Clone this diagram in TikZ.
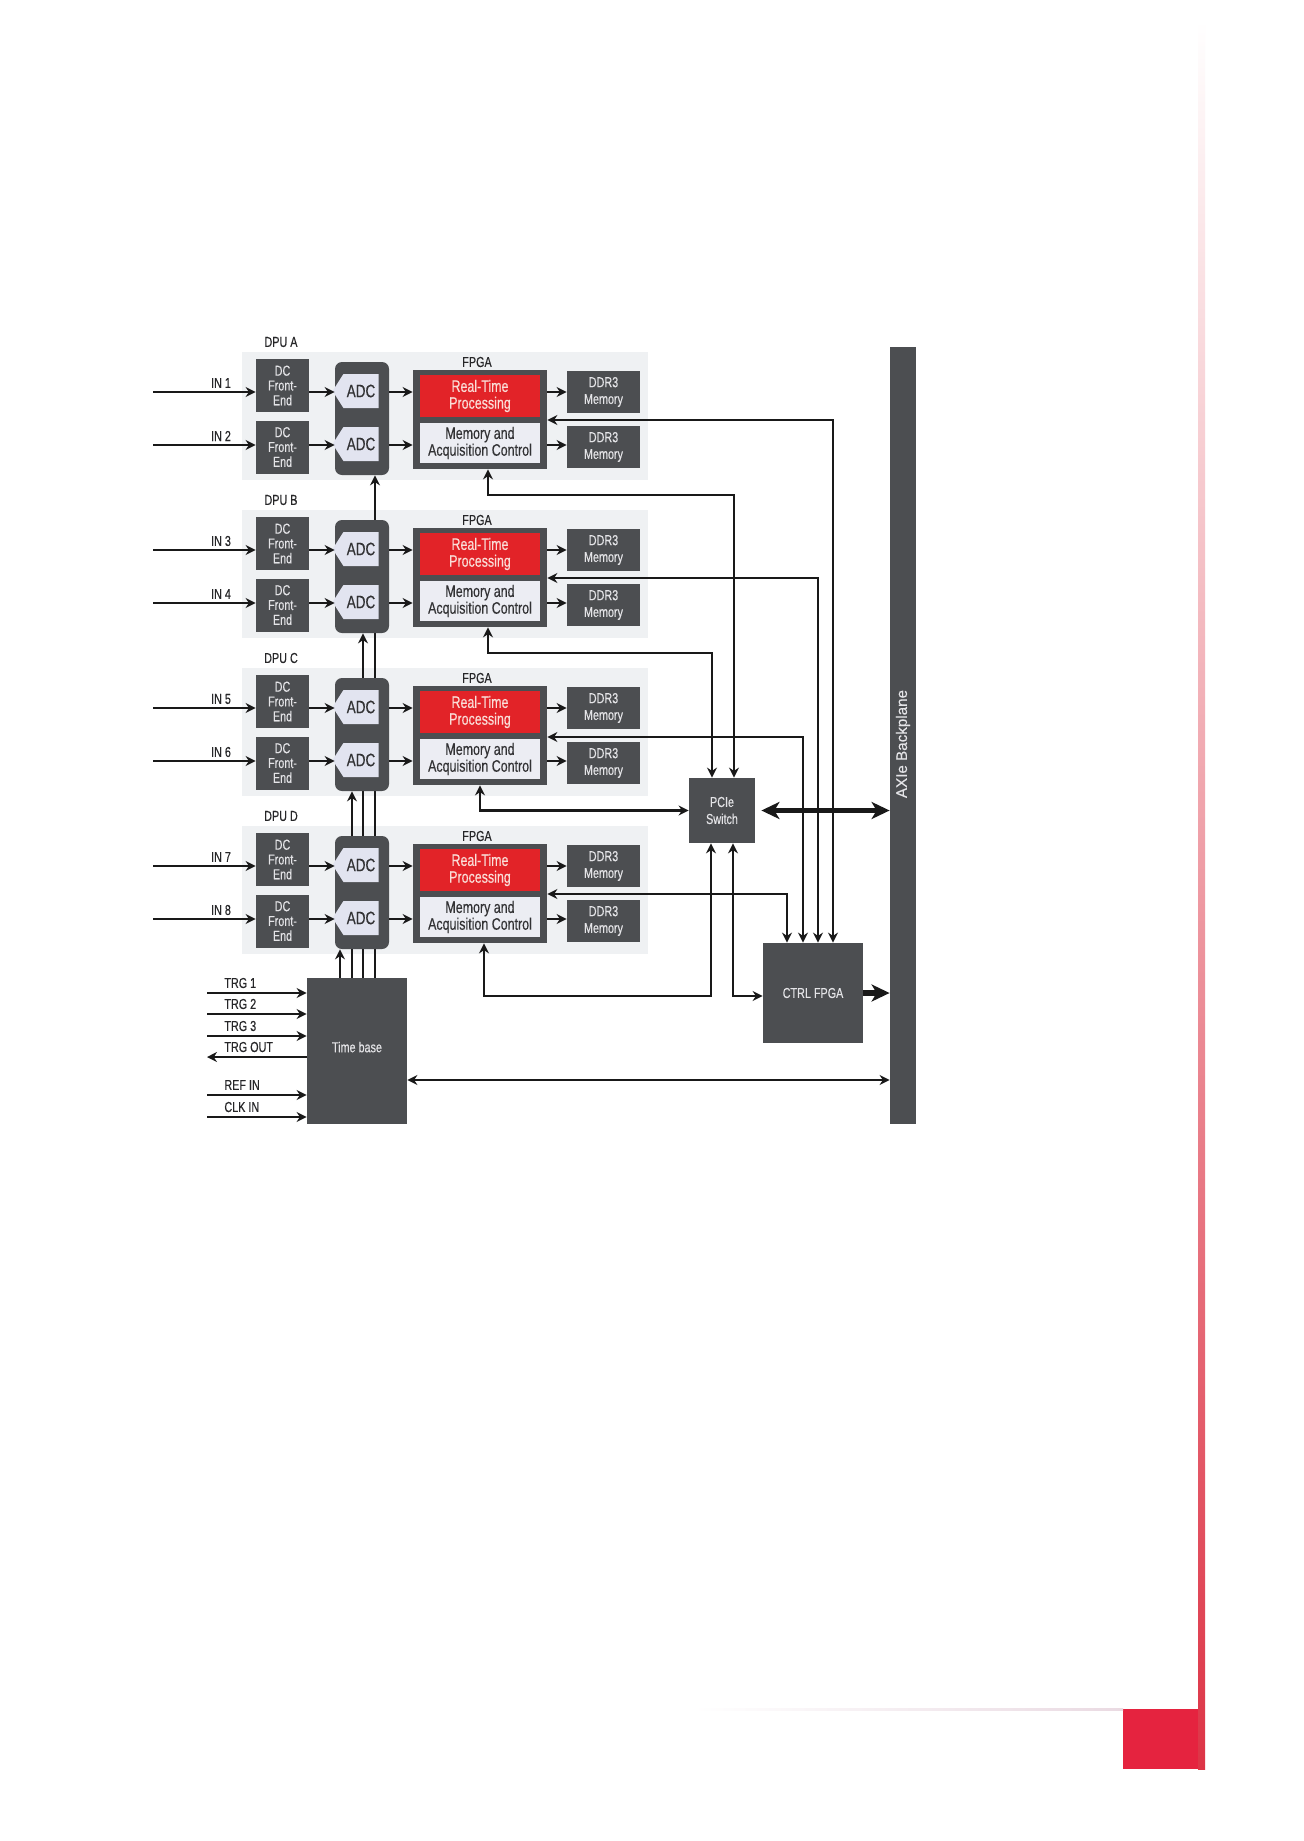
\documentclass[tikz,border=0pt]{standalone}
\usepackage{fontspec}
\setmainfont[FakeStretch=0.75,FakeBold=0.35]{Liberation Sans}
\newfontfamily\axiefont[FakeBold=0.35]{Liberation Sans}
\usetikzlibrary{arrows.meta,shapes.symbols}
\definecolor{dkgray}{RGB}{76,78,81}
\definecolor{panelgray}{RGB}{239,241,243}
\definecolor{rtred}{RGB}{226,35,40}
\definecolor{macfill}{RGB}{236,237,243}
\definecolor{adcfill}{RGB}{226,228,240}
\definecolor{boxtext}{RGB}{228,228,231}
\definecolor{rttext}{RGB}{250,222,216}
\definecolor{dktext}{RGB}{50,50,52}
\definecolor{lbltext}{RGB}{38,38,40}
\definecolor{linecol}{RGB}{25,25,25}
\definecolor{pagered}{RGB}{221,52,70}
\definecolor{pagepink}{RGB}{240,178,186}
\definecolor{squarered}{RGB}{229,35,63}
\definecolor{faintline}{RGB}{234,218,226}
\pgfdeclarelayer{bg}
\pgfdeclarelayer{mid}
\pgfsetlayers{bg,mid,main}
\tikzset{
 dk/.style={fill=dkgray, inner sep=0pt, align=center, text=boxtext},
 dcbox/.style={dk, minimum width=26.5pt, minimum height=26.5pt, font=\fontsize{7.2}{7.4}\selectfont},
 ddrbox/.style={dk, minimum width=36.5pt, minimum height=21pt, font=\fontsize{7.2}{8.4}\selectfont},
 adcbox/.style={fill=dkgray, rounded corners=3.5pt, minimum width=27pt, minimum height=56.5pt, inner sep=0pt},
 adcsig/.style={signal, signal to=west, signal pointer angle=115, fill=adcfill, minimum width=23pt, minimum height=17pt, inner sep=0pt, text=dktext, font=\fontsize{9}{9}\selectfont},
 fpgabox/.style={fill=dkgray, minimum width=67pt, minimum height=49.5pt, inner sep=0pt},
 rtbox/.style={fill=rtred, minimum width=60pt, minimum height=21pt, inner sep=0pt, align=center, text=rttext, font=\fontsize{8.3}{8.4}\selectfont},
 macbox/.style={fill=macfill, minimum width=60pt, minimum height=20pt, inner sep=0pt, align=center, text=dktext, font=\fontsize{8.3}{8.4}\selectfont},
 panel/.style={fill=panelgray, minimum width=203pt, minimum height=64pt, inner sep=0pt},
 lbl/.style={text=lbltext, inner sep=0pt, font=\fontsize{7.2}{8}\selectfont},
 blk/.style={dk, font=\fontsize{7.2}{8.5}\selectfont},
 arr/.style={draw=linecol, line width=1.1pt, -{Stealth[length=5pt,width=5pt]}},
 darr/.style={draw=linecol, line width=1.1pt, {Stealth[length=5pt,width=5pt]}-{Stealth[length=5pt,width=5pt]}},
 fatarr/.style={draw=linecol, line width=2.6pt, -{Stealth[length=9pt,width=8.5pt,inset=2.5pt]}},
 fatdarr/.style={draw=linecol, line width=2.6pt, {Stealth[length=9pt,width=8.5pt,inset=2.5pt]}-{Stealth[length=9pt,width=8.5pt,inset=2.5pt]}}
}
\begin{document}
\begin{tikzpicture}[x=0.5pt,y=-0.5pt]
\useasboundingbox (0,0) rectangle (1303,1841);
\begin{pgfonlayer}{bg}
\fill[white] (0,0) rectangle (1303,1841);
\end{pgfonlayer}

% page decorations
\shade[top color=white, middle color=pagepink, bottom color=pagered] (1198,20) rectangle (1205,1769);
\fill[squarered] (1123,1709) rectangle (1198,1769);
\shade[left color=white, right color=faintline] (693,1708) rectangle (1123,1710);

% DPU rows
\foreach \r/\o/\ia/\ib in {A/0/1/2,B/158/3/4,C/316/5/6,D/474/7/8}{
  \begin{pgfonlayer}{bg}
    \node[panel] (panel\r) at (445,{416+\o}) {};
  \end{pgfonlayer}
  \node[lbl] (dpu\r) at (281,{342+\o}) {DPU \r};
  \node[dcbox] (dc\r1) at (282.5,{385.5+\o}) {DC\\Front-\\End};
  \node[dcbox] (dc\r2) at (282.5,{447+\o}) {DC\\Front-\\End};
  \node[adcbox] (adc\r) at (362,{418.5+\o}) {};
  \node[adcsig] (adc\r1) at (361,{391+\o}) {ADC};
  \node[adcsig] (adc\r2) at (361,{444+\o}) {ADC};
  \node[fpgabox] (fpga\r) at (480,{419.5+\o}) {};
  \node[lbl] (fl\r) at (477,{362+\o}) {FPGA};
  \node[rtbox] (rt\r) at (480,{396+\o}) {Real-Time\\Processing};
  \node[macbox] (mac\r) at (480,{443+\o}) {Memory and\\Acquisition Control};
  \node[ddrbox] (ddr\r1) at (603.5,{392+\o}) {DDR3\\Memory};
  \node[ddrbox] (ddr\r2) at (603.5,{447+\o}) {DDR3\\Memory};
  \coordinate (in\r1) at (153,{392+\o});
  \coordinate (in\r2) at (153,{445+\o});
  \node[lbl] (inl\r1) at (221,{383+\o}) {IN \ia};
  \node[lbl] (inl\r2) at (221,{436+\o}) {IN \ib};
  \foreach \k in {1,2}{
    \draw[arr] (in\r\k) -- (dc\r\k.west |- in\r\k);
    \draw[arr] (dc\r\k.east |- in\r\k) -- (adc\r.west |- in\r\k);
    \draw[arr] (adc\r.east |- in\r\k) -- (fpga\r.west |- in\r\k);
    \draw[arr] (fpga\r.east |- in\r\k) -- (ddr\r\k.west |- in\r\k);
  }
}

% blocks
\node[blk, minimum width=50pt, minimum height=73pt] (tb) at (357,1051) {\raisebox{4pt}{Time base}};
\node[blk, minimum width=33pt, minimum height=32.5pt] (pcie) at (722,810.5) {PCIe\\Switch};
\node[blk, minimum width=50pt, minimum height=50pt] (ctrl) at (813,993) {CTRL FPGA};
\node[fill=dkgray, minimum width=13pt, minimum height=388.5pt, inner sep=0pt] (axie) at (903,735.5) {};
\node[rotate=90, text=boxtext, inner sep=0pt, font=\axiefont\fontsize{7.6}{8}\selectfont] (axiet) at (903,744) {AXIe Backplane};

% time base to ADCs
\begin{pgfonlayer}{mid}
\foreach \x/\t in {340/D,352/C,363/B,375/A}{
  \coordinate (tx\t) at (\x,0);
  \draw[arr] (tb.north -| tx\t) -- (adc\t.south -| tx\t);
}
\end{pgfonlayer}

% trigger / clock lines
\foreach \n/\yy/\t in {t1/993/TRG 1,t2/1014/TRG 2,t3/1036/TRG 3,t5/1095/REF IN,t6/1117/CLK IN}{
  \coordinate (\n) at (207,\yy);
  \draw[arr] (\n) -- (tb.west |- \n);
  \node[lbl, anchor=west] (l\n) at (224,{\yy-10}) {\t};
}
\coordinate (t4) at (207,1057);
\draw[arr] (tb.west |- t4) -- (t4);
\node[lbl, anchor=west] (lt4) at (224,1047) {TRG OUT};

% FPGAs to CTRL FPGA
\coordinate (cA) at (833,420);
\coordinate (cB) at (818,578);
\coordinate (cC) at (803,737);
\coordinate (cD) at (787,894);
\foreach \r in {A,B,C,D}{
  \draw[darr] (fpga\r.east |- c\r) -- (c\r) -- (ctrl.north -| c\r);
}

% FPGAs to PCIe switch
\coordinate (fA) at ([xshift=4pt]fpgaA.south);
\coordinate (fB) at ([xshift=4pt]fpgaB.south);
\coordinate (fD) at ([xshift=2pt]fpgaD.south);
\coordinate (pA) at (734,495);
\coordinate (pB) at (712,653);
\coordinate (pD) at (711,996);
\coordinate (pE) at (733,996);
\draw[darr] (fA) -- (fA |- pA) -- (pA) -- (pcie.north -| pA);
\draw[darr] (fB) -- (fB |- pB) -- (pB) -- (pcie.north -| pB);
\draw[darr] (fpgaC.south) -- (fpgaC.south |- pcie.west) -- (pcie.west);
\draw[darr] (fD) -- (fD |- pD) -- (pD) -- (pcie.south -| pD);
\draw[darr] (pcie.south -| pE) -- (pE) -- (ctrl.west |- pE);

% backplane links
\draw[fatdarr] ([xshift=3pt]pcie.east) -- (axie.west |- pcie.east);
\draw[fatarr] (ctrl.east) -- (axie.west |- ctrl.east);
\coordinate (tbl) at (0,1080);
\draw[darr] (tb.east |- tbl) -- (axie.west |- tbl);
\end{tikzpicture}
\end{document}
